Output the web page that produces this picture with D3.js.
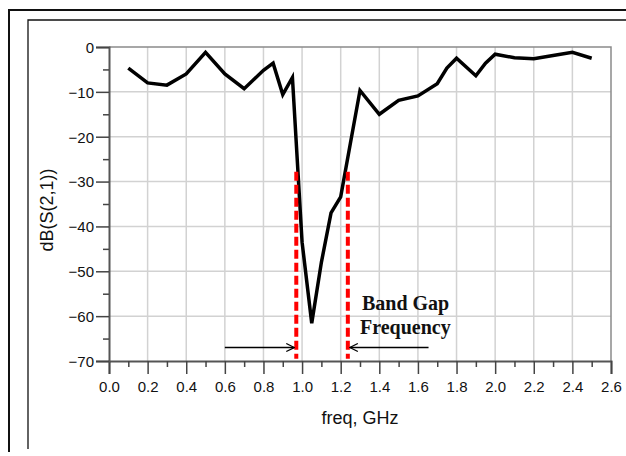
<!DOCTYPE html>
<html>
<head>
<meta charset="utf-8">
<script src="https://cdn.jsdelivr.net/npm/d3@7"></script>
<style>
  body { margin: 0; background: #fff; }
  svg { display: block; }
  .axis-title { font-family: "Liberation Sans", Arial, sans-serif; font-size: 18px; fill: #111; }
  .note { font-family: "Liberation Serif", "Times New Roman", serif; font-size: 20px; font-weight: bold; fill: #111; }
</style>
</head>
<body>
<div id="chart"></div>
<script>
// S21 trace
const FREQ = [0.1, 0.2, 0.3, 0.4, 0.5, 0.6, 0.7, 0.8, 0.85, 0.9, 0.95, 1.0, 1.05, 1.1, 1.15, 1.2, 1.25, 1.3,
  1.4, 1.5, 1.6, 1.7, 1.75, 1.8, 1.9, 1.95, 2.0, 2.1, 2.2, 2.3, 2.4, 2.5];
const S21 = [-4.7, -8.0, -8.5, -6.0, -1.2, -6.0, -9.3, -5.2, -3.6, -10.6, -6.8, -43.5, -61.6, -48, -37, -33.4, -21.5, -9.7,
  -15.0, -11.9, -10.9, -8.2, -4.7, -2.5, -6.4, -3.6, -1.6, -2.4, -2.6, -1.9, -1.2, -2.5];

// axis ticks
const X_TICKS = d3.range(0, 2.61, 0.2);
const X_MINOR = d3.range(0.1, 2.6, 0.2);
const Y_TICKS = d3.range(0, -71, -10);
const Y_MINOR = d3.range(-5, -70, -10);

// band gap markers (freq), arrow tails, annotation
const GAP_EDGES = [0.97, 1.237];
const GAP_TOP = -27.8;
const ARROW_TAILS = [0.6, 1.655];
const ARROW_DB = -67;
const NOTE_LINES = ['Band Gap', 'Frequency'];

const width = 626;
const height = 456;
const margin = { top: 47, right: 15, bottom: 95, left: 109 };

const svg = d3.select('#chart')
  .append('svg')
  .attr('width', width)
  .attr('height', height);

// outer frames (cut off at right/bottom)
const frames = svg.append('g').attr('fill', 'none').attr('stroke', '#111');
frames.append('path').attr('d', `M9,452V10H${width}`).attr('stroke-width', 2);
frames.append('path').attr('d', `M28,449V20H${width}`).attr('stroke-width', 1.3);

const x = d3.scaleLinear().domain([0, 2.6]).range([margin.left, width - margin.right]);
const y = d3.scaleLinear().domain([-70, 0]).range([height - margin.bottom, margin.top]);

// grid
const grid = svg.append('g').attr('stroke', '#d2d2d2').attr('stroke-width', 1.5);
grid.selectAll('line.v')
  .data(X_TICKS.slice(1, -1))
  .enter().append('line')
  .attr('x1', d => x(d)).attr('x2', d => x(d))
  .attr('y1', y(0)).attr('y2', y(-70));
grid.selectAll('line.h')
  .data(Y_TICKS.slice(1, -1))
  .enter().append('line')
  .attr('x1', x(0)).attr('x2', x(2.6))
  .attr('y1', d => y(d)).attr('y2', d => y(d));

// top / right border
svg.append('path')
  .attr('d', `M${x(0)},${y(0)}H${x(2.6)}V${y(-70)}`)
  .attr('fill', 'none')
  .attr('stroke', '#8a8a8a')
  .attr('stroke-width', 1.5);

// axes
const xAxis = svg.append('g')
  .attr('transform', `translate(0,${y(-70)})`)
  .call(d3.axisBottom(x).tickValues(X_TICKS).tickFormat(d3.format('.1f')).tickSize(13).tickPadding(7));
const xMinor = svg.append('g')
  .attr('transform', `translate(0,${y(-70)})`)
  .call(d3.axisBottom(x).tickValues(X_MINOR).tickFormat('').tickSize(6));
const yAxis = svg.append('g')
  .attr('transform', `translate(${x(0)},0)`)
  .call(d3.axisLeft(y).tickValues(Y_TICKS).tickFormat(d3.format('d')).tickSize(13).tickPadding(2));
const yMinor = svg.append('g')
  .attr('transform', `translate(${x(0)},0)`)
  .call(d3.axisLeft(y).tickValues(Y_MINOR).tickFormat('').tickSize(6));

[xAxis, xMinor, yAxis, yMinor].forEach(a => {
  a.attr('font-size', 15).attr('font-family', '"Liberation Sans", Arial, sans-serif');
  a.select('.domain').attr('stroke', '#555').attr('stroke-width', 2);
  a.selectAll('.tick line').attr('stroke', '#444').attr('stroke-width', 1.5);
  a.selectAll('.tick text').attr('fill', '#111');
});
xMinor.select('.domain').remove();
yMinor.select('.domain').remove();
yAxis.selectAll('.tick text').attr('dy', '0.36em');

// axis titles
svg.append('text')
  .attr('class', 'axis-title')
  .attr('x', (x(0) + x(2.6)) / 2)
  .attr('y', 424)
  .attr('text-anchor', 'middle')
  .text('freq, GHz');
svg.append('text')
  .attr('class', 'axis-title')
  .attr('transform', `translate(53,${(y(0) + y(-70)) / 2 + 6}) rotate(-90)`)
  .attr('text-anchor', 'middle')
  .text('dB(S(2,1))');

// trace
const line = d3.line()
  .x((d, i) => x(FREQ[i]))
  .y(d => y(d));
svg.append('path')
  .attr('d', line(S21))
  .attr('fill', 'none')
  .attr('stroke', '#000')
  .attr('stroke-width', 3.5)
  .attr('stroke-linejoin', 'miter');

// band gap dashed markers
svg.selectAll('line.gap')
  .data(GAP_EDGES)
  .enter().append('line')
  .attr('x1', d => x(d)).attr('x2', d => x(d))
  .attr('y1', y(GAP_TOP)).attr('y2', y(-69.5))
  .attr('stroke', '#f00')
  .attr('stroke-width', 4)
  .attr('stroke-dasharray', '9,4');

// arrows
svg.append('defs').append('marker')
  .attr('id', 'head')
  .attr('viewBox', '0 0 10 10')
  .attr('refX', 9).attr('refY', 5)
  .attr('markerWidth', 10).attr('markerHeight', 10)
  .attr('markerUnits', 'userSpaceOnUse')
  .attr('orient', 'auto')
  .append('path')
  .attr('d', 'M1,1L9,5L1,9')
  .attr('fill', 'none')
  .attr('stroke', '#000')
  .attr('stroke-width', 1.3);

svg.selectAll('line.arrow')
  .data(ARROW_TAILS)
  .enter().append('line')
  .attr('x1', d => x(d))
  .attr('x2', (d, i) => x(GAP_EDGES[i]) + (i === 0 ? -2 : 2))
  .attr('y1', y(ARROW_DB)).attr('y2', y(ARROW_DB))
  .attr('stroke', '#000')
  .attr('stroke-width', 1.5)
  .attr('marker-end', 'url(#head)');

// annotation
svg.selectAll('text.note')
  .data(NOTE_LINES)
  .enter().append('text')
  .attr('class', 'note')
  .attr('x', (d, i) => x(1.31) - i * 2)
  .attr('y', (d, i) => y(-58.6) + i * 24)
  .text(d => d);
</script>
</body>
</html>
